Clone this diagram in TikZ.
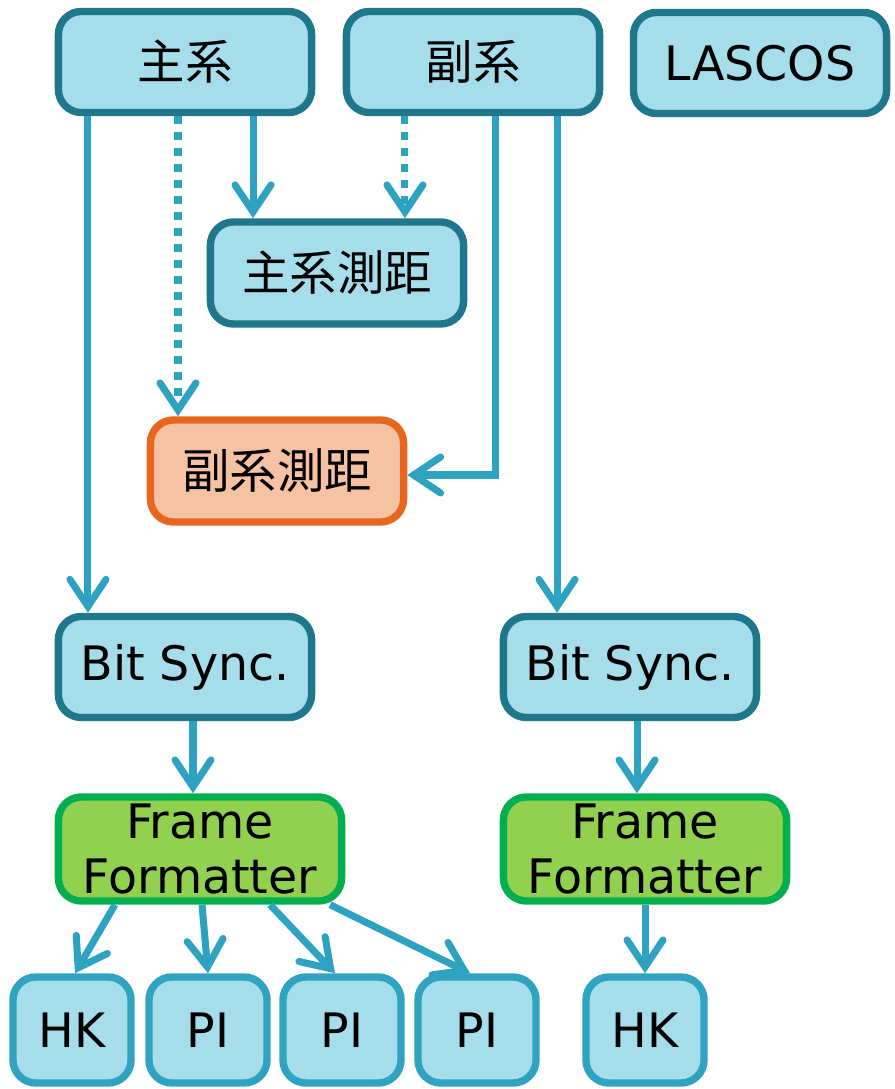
\documentclass[tikz,border=0pt]{standalone}
\usepackage{fontspec}
\setmainfont{DejaVu Sans}
\newfontfamily\cjkfont{Noto Sans CJK JP}
\usetikzlibrary{arrows.meta}

\definecolor{boxfill}{HTML}{A6DDEA}
\definecolor{darkedge}{HTML}{1F778B}
\definecolor{lightedge}{HTML}{2FA3C0}
\definecolor{linkblue}{HTML}{2DA3C1}
\definecolor{orangeedge}{HTML}{E8661E}
\definecolor{orangefill}{HTML}{F6C2A4}
\definecolor{greenedge}{HTML}{00B050}
\definecolor{greenfill}{HTML}{92D050}

\tikzset{
  basebox/.style={draw, line width=2.1pt, rounded corners=0.23cm, align=center,
    font=\fontsize{13.5}{16}\selectfont, inner sep=0pt},
  darkbox/.style={basebox, draw=darkedge, fill=boxfill,
    minimum width=2.53cm, minimum height=1.01cm},
  rangebox/.style={darkbox, minimum height=1.02cm},
  hotbox/.style={basebox, draw=orangeedge, fill=orangefill,
    minimum width=2.53cm, minimum height=1.02cm},
  framebox/.style={basebox, draw=greenedge, fill=greenfill,
    minimum width=2.83cm, minimum height=1.04cm,
    font=\fontsize{13.5}{15.5}\selectfont},
  smallbox/.style={basebox, draw=lightedge, fill=boxfill,
    minimum width=1.18cm, minimum height=1.06cm},
  link/.style={draw=linkblue, line width=2pt,
    -{Straight Barb[length=0.27cm, width=0.36cm, line cap=round]}},
  dotlink/.style={link, dash pattern=on 0.08cm off 0.08cm}
}

\begin{document}
\begin{tikzpicture}[x=0.01cm, y=-0.01cm]
	\useasboundingbox (0,0) rectangle (894,1089);

	% top row
	\node[darkbox] (main) at (185,62) {\cjkfont 主系};
	\node[darkbox] (sub) at (473,62) {\cjkfont 副系};
	\node[darkbox] (lascos) at (760,63) {LASCOS};

	% ranging
	\node[rangebox] (mainrange) at (337,273) {\cjkfont 主系測距};
	\node[hotbox] (subrange) at (277,471) {\cjkfont 副系測距};

	% bit sync / frame formatter
	\node[darkbox] (bitL) at (185,667) {Bit Sync.};
	\node[darkbox] (bitR) at (630,667) {Bit Sync.};
	\node[framebox] (ffL) at (200,849) {Frame\\Formatter};
	\node[framebox] (ffR) at (645,849) {Frame\\Formatter};

	% outputs
	\node[smallbox] (hkL) at (72,1030) {HK};
	\node[smallbox] (piA) at (208,1030) {PI};
	\node[smallbox] (piB) at (342,1030) {PI};
	\node[smallbox] (piC) at (477,1030) {PI};
	\node[smallbox] (hkR) at (645,1030) {HK};

	% connectors from the top row
	\draw[link] ([xshift=-0.97cm]main.south) -- ([xshift=-0.97cm]bitL.north);
	\draw[dotlink] ([xshift=-0.07cm]main.south) -- ([xshift=-0.07cm]main.south |- subrange.north);
	\draw[link] ([xshift=0.68cm]main.south) -- ([xshift=0.68cm]main.south |- mainrange.north);
	\draw[dotlink] ([xshift=-0.68cm]sub.south) -- ([xshift=-0.68cm]sub.south |- mainrange.north);
	\draw[link] ([xshift=0.22cm]sub.south) |- ([yshift=-0.04cm]subrange.east);
	\draw[link] ([xshift=0.84cm]sub.south) -- ([xshift=0.84cm]sub.south |- bitR.north);

	% chains
	\draw[link] ([xshift=0.08cm]bitL.south) -- ([xshift=0.08cm]bitL.south |- ffL.north);
	\draw[link] ([xshift=0.07cm]bitR.south) -- ([xshift=0.07cm]bitR.south |- ffR.north);
	\draw[link] ([xshift=-0.85cm]ffL.south) -- ([xshift=0.03cm]hkL.north);
	\draw[link] ([xshift=0.02cm]ffL.south) -- (piA.north);
	\draw[link] ([xshift=0.70cm]ffL.south) -- ([xshift=-0.07cm]piB.north);
	\draw[link] ([xshift=1.30cm]ffL.south) -- ([xshift=-0.07cm]piC.north);
	\draw[link] (ffR.south) -- (hkR.north);
\end{tikzpicture}
\end{document}
